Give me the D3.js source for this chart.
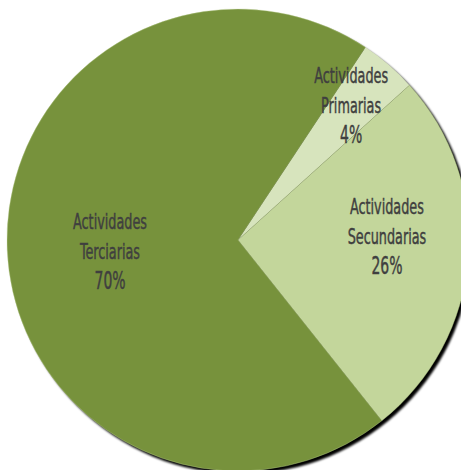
<!DOCTYPE html>
<html>
<head>
<meta charset="utf-8">
<script src="https://cdn.jsdelivr.net/npm/d3@7"></script>
<style>
  html, body { margin: 0; padding: 0; background: #fff; overflow: hidden; }
  svg { display: block; }
</style>
</head>
<body>
<svg id="chart" width="461" height="470"></svg>
<script>
// Sector shares of economic activity
const categories = ["Actividades Primarias", "Actividades Secundarias", "Actividades Terciarias"];
const labelLines = [["Actividades", "Primarias"], ["Actividades", "Secundarias"], ["Actividades", "Terciarias"]];
const values = [4, 26, 70];
const colors = ["#D7E4BD", "#C3D69B", "#77923C"];

// label placement: distance from centre (fraction of radius) and angular nudge (degrees)
const labelRadius = [0.736, 0.645, 0.56];
const labelNudge = [1.0, -3.2, -5.9];

const width = 461, height = 470;
const cx = 238, cy = 240, r = 231;

const svg = d3.select("#chart");
const defs = svg.append("defs");
defs.append("filter").attr("id", "soft")
  .attr("x", "-10%").attr("y", "-10%").attr("width", "120%").attr("height", "120%")
  .append("feGaussianBlur").attr("stdDeviation", 1.2);

const g = svg.append("g").attr("transform", `translate(${cx},${cy})`);

const pie = d3.pie().sort(null)
  .startAngle(33.5 * Math.PI / 180)
  .endAngle(33.5 * Math.PI / 180 + 2 * Math.PI)
  .value(d => d);
const arcs = pie(values);
const arc = d3.arc().innerRadius(0).outerRadius(r);

// drop shadow under the pie
g.append("circle")
  .attr("cx", 3).attr("cy", 3).attr("r", r)
  .attr("fill", "#000")
  .attr("filter", "url(#soft)");

g.selectAll("path.slice")
  .data(arcs)
  .join("path")
  .attr("class", "slice")
  .attr("d", arc)
  .attr("fill", (d, i) => colors[i])
  .attr("stroke", (d, i) => i === 0 ? "none" : "#b5c98c")
  .attr("stroke-width", 0.4);

const fmt = v => `${v}%`;
const lineGap = 30;
const targetWidth = 74; // rendered width of "Actividades"

const labels = g.selectAll("g.lbl")
  .data(arcs)
  .join("g")
  .attr("class", "lbl")
  .attr("transform", (d, i) => {
    const a = (d.startAngle + d.endAngle) / 2 + labelNudge[i] * Math.PI / 180;
    const rr = labelRadius[i] * r;
    return `translate(${Math.sin(a) * rr},${-Math.cos(a) * rr})`;
  })
  .append("text")
  .attr("text-anchor", "middle")
  .attr("font-family", "'DejaVu Sans Condensed', 'DejaVu Sans', sans-serif")
  .attr("font-size", 22)
  .attr("fill", "#3f3f3f")
  .attr("stroke", "#3f3f3f")
  .attr("stroke-width", 0.45);

labels.each(function(d, i) {
  const t = d3.select(this);
  const lines = [...labelLines[i], fmt(values[i])];
  lines.forEach((s, k) => {
    t.append("tspan")
      .attr("x", 0)
      .attr("y", (k - 1) * lineGap)
      .attr("font-size", k === 2 ? 24 : null)
      .text(s);
  });
  // squeeze horizontally to a condensed face
  const w = this.firstChild.getComputedTextLength();
  t.attr("transform", `scale(${targetWidth / w},1)`);
});
</script>
</body>
</html>
